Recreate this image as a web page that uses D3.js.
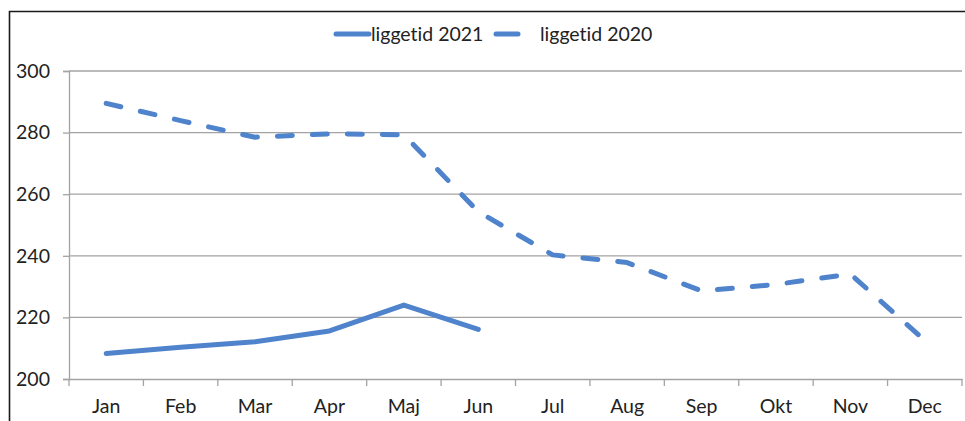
<!DOCTYPE html>
<html><head><meta charset="utf-8">
<script src="https://cdn.jsdelivr.net/npm/d3@7"></script>
<style>
html,body{margin:0;padding:0;background:#fff;}
svg{display:block;font-family:Lato,"Open Sans",sans-serif;font-variant-ligatures:none;}
</style></head>
<body>
<svg id="c" width="965" height="421"></svg>
<script>
const months = ["Jan","Feb","Mar","Apr","Maj","Jun","Jul","Aug","Sep","Okt","Nov","Dec"];
const liggetid2021 = [208.3, 210.3, 212.1, 215.6, 224.0, 216.1];
const liggetid2020 = [289.5, 283.9, 278.5, 279.6, 279.3, 254.3, 240.3, 237.8, 228.6, 230.7, 234.1, 212.5];
const yTicks = [200, 220, 240, 260, 280, 300];
const seriesNames = ["liggetid 2021", "liggetid 2020"];

const svg = d3.select("#c");
const color = "#4f83cc";
const grid = "#a3a3a3";
const textColor = "#222";
const fs = "19.5px";

// chart border
svg.append("path").attr("d","M9.5,430 V11.5 H970").attr("fill","none").attr("stroke","#1a1a1a").attr("stroke-width",1.6);

const x = d3.scaleBand().domain(months).range([69, 962]);
const y = d3.scaleLinear().domain([200, 300]).range([379, 71]);

// gridlines
svg.append("g").selectAll("line").data(yTicks.filter(d => d > 200)).join("line")
  .attr("x1", 69).attr("x2", 962).attr("y1", d => y(d)).attr("y2", d => y(d))
  .attr("stroke", grid).attr("stroke-width", 1.3);

// y axis
const ya = svg.append("g").attr("transform","translate(69,0)")
  .call(d3.axisLeft(y).tickValues(yTicks).tickSize(6).tickPadding(13).tickFormat(d3.format("d")));
ya.select(".domain").attr("stroke", grid).attr("stroke-width",1.3);
ya.selectAll(".tick line").attr("stroke", grid).attr("stroke-width",1.3);
ya.selectAll("text").attr("fill", textColor).style("font-size",fs).style("font-family","Lato");

// x axis
const xa = svg.append("g").attr("transform","translate(0,379)")
  .call(d3.axisBottom(x).tickSize(0).tickPadding(20));
xa.select(".domain").attr("stroke", grid).attr("stroke-width",1.3);
xa.selectAll("text").attr("fill", textColor).style("font-size",fs).style("font-family","Lato");
const bounds = months.map(m => x(m)).concat([x.range()[1]]);
svg.append("g").selectAll("line").data(bounds).join("line")
  .attr("x1", d => d).attr("x2", d => d).attr("y1", 379).attr("y2", 386)
  .attr("stroke", grid).attr("stroke-width", 1.3);

const cx = i => x(months[i]) + x.bandwidth()/2;
const line = d3.line().x((d,i) => cx(i)).y(d => y(d));

svg.append("path").datum(liggetid2020).attr("d", line)
  .attr("fill","none").attr("stroke", color).attr("stroke-width",5)
  .attr("stroke-dasharray","15 20").attr("stroke-linecap","round").attr("stroke-linejoin","round");
svg.append("path").datum(liggetid2021).attr("d", line)
  .attr("fill","none").attr("stroke", color).attr("stroke-width",5)
  .attr("stroke-linecap","round").attr("stroke-linejoin","round");

// legend
const lg = svg.append("g");
lg.append("line").attr("x1",336).attr("x2",369).attr("y1",34).attr("y2",34)
  .attr("stroke",color).attr("stroke-width",5).attr("stroke-linecap","round");
lg.append("text").attr("x",371).attr("y",41).text(seriesNames[0])
  .attr("fill",textColor).style("font-size",fs);
lg.append("line").attr("x1",496).attr("x2",518).attr("y1",34).attr("y2",34)
  .attr("stroke",color).attr("stroke-width",5).attr("stroke-linecap","round");
lg.append("text").attr("x",540).attr("y",41).text(seriesNames[1])
  .attr("fill",textColor).style("font-size",fs);
</script>
</body></html>
